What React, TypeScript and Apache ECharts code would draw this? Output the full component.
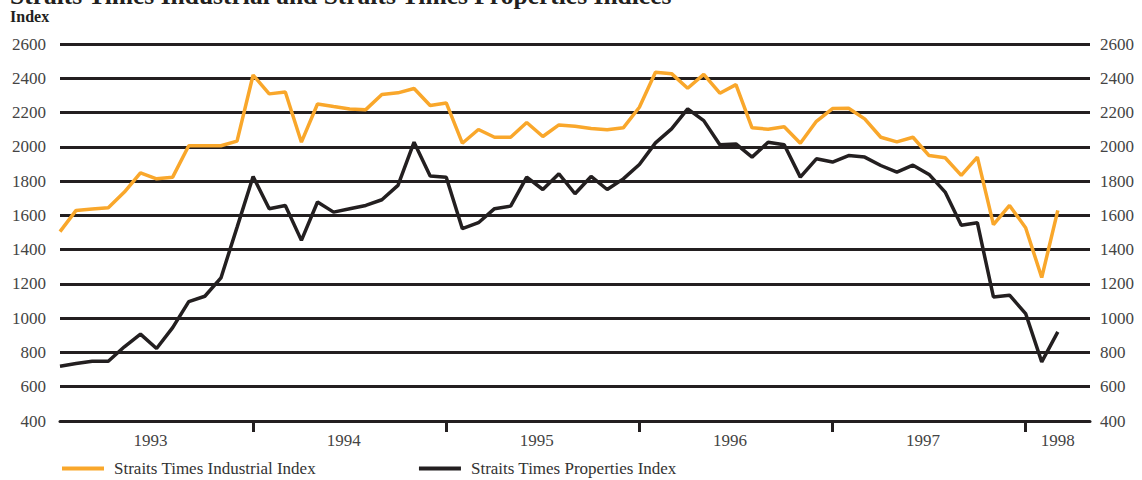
import React, { useEffect, useRef } from "react";
import * as echarts from "echarts";

const months: string[] = [];
for (let y = 1993; y <= 1998; y++) {
  for (let m = 1; m <= 12; m++) {
    if (y === 1998 && m > 5) break;
    months.push(`${y}-${m < 10 ? "0" + m : m}`);
  }
}

const industrial = [
  1505, 1629, 1637, 1645, 1736, 1848, 1813, 1823, 2006, 2006, 2006, 2033,
  2419, 2309, 2320, 2027, 2250, 2235, 2221, 2217, 2305, 2315, 2340, 2241,
  2256, 2021, 2101, 2056, 2056, 2142, 2060, 2128, 2120, 2107, 2099, 2111,
  2231, 2435, 2427, 2342, 2423, 2313, 2363, 2111, 2103, 2117, 2021, 2149,
  2223, 2225, 2163, 2056, 2029, 2056, 1949, 1936, 1833, 1940, 1546, 1658,
  1528, 1237, 1629,
];

const properties = [
  720, 735, 749, 749, 833, 907, 823, 945, 1097, 1128, 1235, 1530,
  1827, 1639, 1658, 1454, 1678, 1619, 1639, 1658, 1691, 1775, 2027, 1829,
  1823, 1522, 1557, 1639, 1654, 1823, 1751, 1843, 1726, 1827, 1751, 1813,
  1897, 2023, 2105, 2221, 2153, 2012, 2017, 1940, 2027, 2012, 1823, 1930,
  1911, 1949, 1940, 1891, 1852, 1893, 1839, 1736, 1542, 1557, 1124, 1134,
  1027, 745, 920,
];

const seriesNames = ["Straits Times Industrial Index", "Straits Times Properties Index"];
const titleText = "Straits Times Industrial and Straits Times Properties Indices";
const yAxisName = "Index";

const ORANGE = "#F9A72B";
const DARK = "#231F20";
const FONT = "'Liberation Serif', 'DejaVu Serif', serif";

export default function App() {
  const ref = useRef<HTMLDivElement>(null);
  useEffect(() => {
    if (!ref.current) return;
    const chart = echarts.init(ref.current, undefined, { renderer: "svg" });
    const yAxisCommon = {
      type: "value" as const,
      min: 400,
      max: 2600,
      interval: 200,
      axisLine: { show: false },
      axisTick: { show: false },
    };
    const yLabel = (v: number) => String(v);
    chart.setOption({
      animation: false,
      backgroundColor: "#ffffff",
      title: {
        text: titleText,
        left: 5,
        top: -23,
        textStyle: { fontFamily: FONT, fontSize: 25.5, fontWeight: "bold", color: DARK },
      },
      graphic: [
        {
          type: "text",
          left: 10,
          top: 8,
          style: { text: yAxisName, font: `bold 16px ${FONT}`, fill: DARK },
        },
      ],
      legend: {
        left: 57,
        top: 455,
        itemWidth: 42,
        itemHeight: 4,
        itemGap: 103,
        icon: "rect",
        textStyle: { fontFamily: FONT, fontSize: 17, color: "#333", padding: [0, 0, 0, 5] },
        data: seriesNames,
      },
      grid: { left: 60, right: 52, top: 44, bottom: 59, containLabel: false },
      xAxis: {
        type: "category",
        data: months,
        boundaryGap: false,
        axisLine: { show: true, lineStyle: { color: DARK, width: 3 } },
        axisTick: {
          show: true,
          interval: (i: number) => i > 0 && i % 12 === 0,
          length: 11,
          lineStyle: { color: DARK, width: 3 },
        },
        axisLabel: {
          interval: (i: number) => i % 12 === 6 || i === 62,
          margin: 11,
          formatter: (v: string, i: number) =>
            i === 62 ? `{b|${v.slice(0, 4)}}` : `{a|${v.slice(0, 4)}}`,
          rich: {
            a: { fontFamily: FONT, fontSize: 17, color: "#444", padding: [0, 12, 0, 0] },
            b: { fontFamily: FONT, fontSize: 17, color: "#444" },
          },
        },
        splitLine: { show: false },
      },
      yAxis: [
        {
          ...yAxisCommon,
          position: "left",
          axisLabel: { fontFamily: FONT, fontSize: 17, color: "#444", margin: 14, formatter: yLabel },
          splitLine: { show: true, lineStyle: { color: DARK, width: 3 } },
        },
        {
          ...yAxisCommon,
          position: "right",
          axisLabel: { fontFamily: FONT, fontSize: 17, color: "#444", margin: 10, formatter: yLabel },
          splitLine: { show: false },
        },
      ],
      series: [
        {
          name: seriesNames[0],
          type: "line",
          data: industrial,
          symbol: "none",
          lineStyle: { color: ORANGE, width: 3.5 },
          itemStyle: { color: ORANGE },
          z: 3,
        },
        {
          name: seriesNames[1],
          type: "line",
          data: properties,
          symbol: "none",
          lineStyle: { color: DARK, width: 3.5 },
          itemStyle: { color: DARK },
          z: 4,
        },
      ],
    });
    return () => chart.dispose();
  }, []);
  return (
    <div
      ref={ref}
      style={{ position: "absolute", left: 0, top: 0, width: 1142, height: 480, overflow: "hidden" }}
    />
  );
}
